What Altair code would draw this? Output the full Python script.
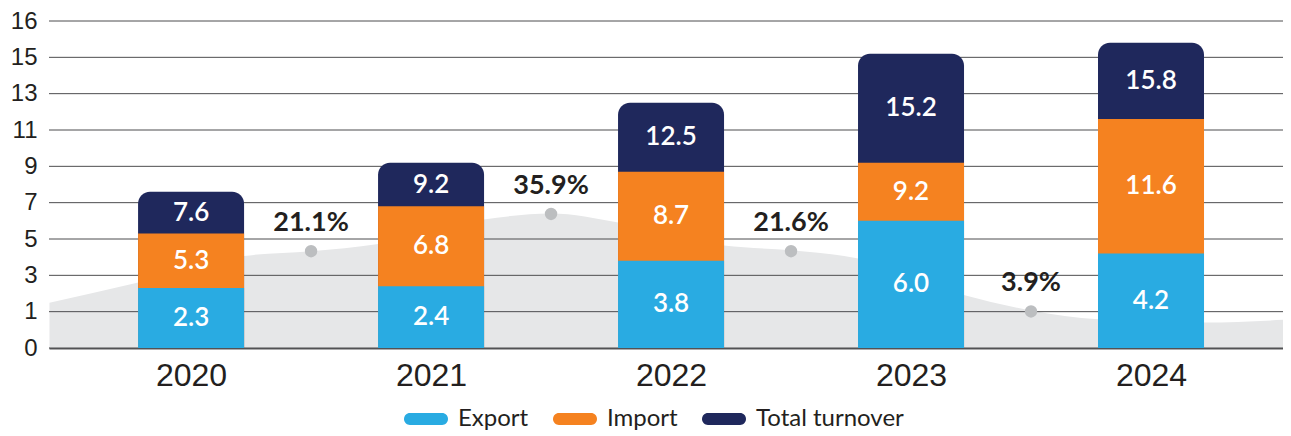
import json
import altair as alt
import pandas as pd

# ---------------- data ----------------
years = [2020, 2021, 2022, 2023, 2024]
export_vals = [2.3, 2.4, 3.8, 6.0, 4.2]
import_vals = [5.3, 6.8, 8.7, 9.2, 11.6]
total_vals = [7.6, 9.2, 12.5, 15.2, 15.8]

series_names = ["Export", "Import", "Total turnover"]
series_colors = ["#29abe2", "#f58220", "#1f285c"]

growth_x = [2020.5, 2021.5, 2022.5, 2023.5]
growth_labels = ["21.1%", "35.9%", "21.6%", "3.9%"]
growth_level = [4.33, 6.38, 4.33, 1.01]

wave_x = [2019.41, 2019.78, 2020.22, 2020.5, 2020.78, 2021.22, 2021.5, 2021.78,
          2022.22, 2022.5, 2022.78, 2023.22, 2023.5, 2023.78, 2024.22, 2024.55]
wave_y = [1.49, 2.61, 4.06, 4.33, 4.73, 6.07, 6.40, 5.91,
          4.64, 4.38, 3.93, 1.92, 1.07, 0.58, 0.40, 0.55]

y_tick_values = [-1, 1, 3, 5, 7, 9, 11, 13, 15, 17]
y_tick_labels = ["0", "1", "3", "5", "7", "9", "11", "13", "15", "16"]

Y_MIN, Y_MAX = -1, 17
X_MIN, X_MAX = 2019.408, 2024.550

# ---------------- tables ----------------
rows = []
for i, yr in enumerate(years):
    e, m, t = export_vals[i], import_vals[i], total_vals[i]
    rows.append(dict(year=yr, series="Total turnover", value=t, mid=(t + m) / 2, label=f"{t:.1f}", z=0))
    rows.append(dict(year=yr, series="Import", value=m, mid=(m + e) / 2, label=f"{m:.1f}", z=1))
    rows.append(dict(year=yr, series="Export", value=e, mid=(e + Y_MIN) / 2, label=f"{e:.1f}", z=2))
bars = pd.DataFrame(rows)
wave = pd.DataFrame({"x": wave_x, "y": wave_y})
growth = pd.DataFrame({"x": growth_x, "y": growth_level, "label": growth_labels})
grid = pd.DataFrame({"v": y_tick_values})

xscale = alt.Scale(domain=[X_MIN, X_MAX], nice=False, zero=False, padding=0)
yscale = alt.Scale(domain=[Y_MIN, Y_MAX], nice=False, zero=False, padding=0)

label_expr = f"{json.dumps(y_tick_labels)}[indexof({json.dumps(y_tick_values)}, datum.value)]"

xaxis = alt.Axis(values=years, format="d", title=None, ticks=False, grid=False,
                 domain=True, domainColor="#58595b", domainWidth=2,
                 labelFont="Liberation Sans", labelFontSize=32, labelColor="#231f20",
                 labelPadding=12, labelFlush=False)
yaxis = alt.Axis(values=y_tick_values, labelExpr=label_expr, title=None, ticks=False,
                 grid=False, domain=False, labelFont="Liberation Sans", labelFontSize=24,
                 labelColor="#231f20", labelPadding=12)

color = alt.Color("series:N", scale=alt.Scale(domain=series_names, range=series_colors),
                  legend=alt.Legend(title=None))

area = alt.Chart(wave).mark_area(color="#e6e7e8", interpolate="monotone").encode(
    x=alt.X("x:Q", scale=xscale, axis=xaxis),
    y=alt.Y("y:Q", scale=yscale, axis=yaxis),
    y2=alt.datum(Y_MIN),
)

rules = alt.Chart(grid).mark_rule(color="#4d4d4f", strokeWidth=1).encode(
    y=alt.Y("v:Q", scale=yscale, axis=yaxis),
)

total_bars = alt.Chart(bars).transform_filter(alt.datum.series == "Total turnover").mark_bar(
    size=106, cornerRadiusTopLeft=12, cornerRadiusTopRight=12
).encode(
    x=alt.X("year:Q", scale=xscale, axis=xaxis),
    y=alt.Y("value:Q", scale=yscale, axis=yaxis),
    y2=alt.datum(Y_MIN),
    color=color,
)

other_bars = alt.Chart(bars).transform_filter(alt.datum.series != "Total turnover").mark_bar(
    size=106
).encode(
    x=alt.X("year:Q", scale=xscale, axis=xaxis),
    y=alt.Y("value:Q", scale=yscale, axis=yaxis),
    y2=alt.datum(Y_MIN),
    color=color,
    order=alt.Order("z:Q"),
)

bar_labels = alt.Chart(bars).mark_text(
    color="white", font="Lato", fontSize=26, fontWeight=600, baseline="middle", align="center"
).encode(
    x=alt.X("year:Q", scale=xscale, axis=xaxis),
    y=alt.Y("mid:Q", scale=yscale, axis=yaxis),
    text="label:N",
)

points = alt.Chart(growth).mark_circle(size=154, color="#bcbec0", opacity=1).encode(
    x=alt.X("x:Q", scale=xscale, axis=xaxis),
    y=alt.Y("y:Q", scale=yscale, axis=yaxis),
)

point_labels = alt.Chart(growth).mark_text(
    color="#231f20", font="Lato", fontSize=27, fontWeight="bold", baseline="middle",
    dy=-28, align="center"
).encode(
    x=alt.X("x:Q", scale=xscale, axis=xaxis),
    y=alt.Y("y:Q", scale=yscale, axis=yaxis),
    text="label:N",
)

pill = "M-0.73,-0.27H0.73A0.27,0.27,0,0,1,0.73,0.27H-0.73A0.27,0.27,0,0,1,-0.73,-0.27Z"

chart = alt.layer(area, rules, total_bars, other_bars, bar_labels, points, point_labels).properties(
    width=1234, height=327,
    autosize=alt.AutoSizeParams(type="none"),
    padding={"left": 41, "top": 13, "right": 0, "bottom": 88},
    background="white",
).configure_view(stroke=None).configure_legend(
    orient="none", legendX=355, legendY=376, direction="horizontal",
    symbolType=pill, symbolSize=1936, symbolStrokeWidth=0, symbolOpacity=1,
    labelFont="Lato", labelFontSize=24, labelColor="#231f20", labelOffset=10,
    columnPadding=24, padding=0,
)

chart.save("out.html", embed_options={"renderer": "svg", "actions": False})
